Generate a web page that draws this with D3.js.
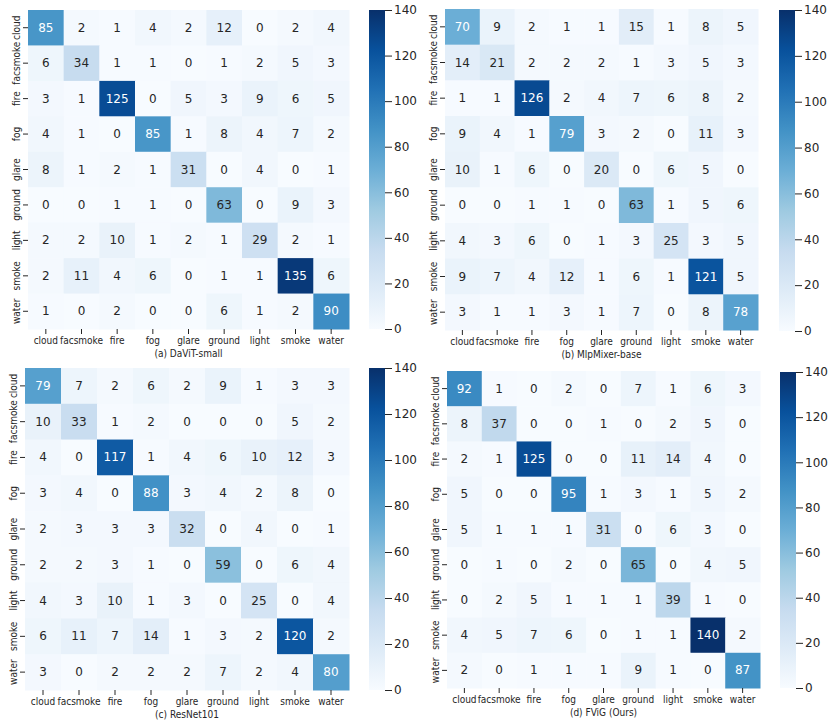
<!DOCTYPE html>
<html>
<head>
<meta charset="utf-8">
<script src="https://cdnjs.cloudflare.com/ajax/libs/d3/7.8.5/d3.min.js"></script>
<style>
  body { margin: 0; background: #fff; }
  text { font-family: "DejaVu Sans", sans-serif; fill: #262626; }
  .lbl text { font-family: "DejaVu Sans Condensed", "DejaVu Sans", sans-serif; }
</style>
</head>
<body>
<div id="canvas"></div>
<script>
// class names, same order on both axes
var categories = ["cloud", "facsmoke", "fire", "fog", "glare", "ground", "light", "smoke", "water"];

// rows = true class, cols = predicted class
var davitSmall = [
  [85, 2, 1, 4, 2, 12, 0, 2, 4],
  [6, 34, 1, 1, 0, 1, 2, 5, 3],
  [3, 1, 125, 0, 5, 3, 9, 6, 5],
  [4, 1, 0, 85, 1, 8, 4, 7, 2],
  [8, 1, 2, 1, 31, 0, 4, 0, 1],
  [0, 0, 1, 1, 0, 63, 0, 9, 3],
  [2, 2, 10, 1, 2, 1, 29, 2, 1],
  [2, 11, 4, 6, 0, 1, 1, 135, 6],
  [1, 0, 2, 0, 0, 6, 1, 2, 90]
];

var mlpMixerBase = [
  [70, 9, 2, 1, 1, 15, 1, 8, 5],
  [14, 21, 2, 2, 2, 1, 3, 5, 3],
  [1, 1, 126, 2, 4, 7, 6, 8, 2],
  [9, 4, 1, 79, 3, 2, 0, 11, 3],
  [10, 1, 6, 0, 20, 0, 6, 5, 0],
  [0, 0, 1, 1, 0, 63, 1, 5, 6],
  [4, 3, 6, 0, 1, 3, 25, 3, 5],
  [9, 7, 4, 12, 1, 6, 1, 121, 5],
  [3, 1, 1, 3, 1, 7, 0, 8, 78]
];

var resNet101 = [
  [79, 7, 2, 6, 2, 9, 1, 3, 3],
  [10, 33, 1, 2, 0, 0, 0, 5, 2],
  [4, 0, 117, 1, 4, 6, 10, 12, 3],
  [3, 4, 0, 88, 3, 4, 2, 8, 0],
  [2, 3, 3, 3, 32, 0, 4, 0, 1],
  [2, 2, 3, 1, 0, 59, 0, 6, 4],
  [4, 3, 10, 1, 3, 0, 25, 0, 4],
  [6, 11, 7, 14, 1, 3, 2, 120, 2],
  [3, 0, 2, 2, 2, 7, 2, 4, 80]
];

var fvig = [
  [92, 1, 0, 2, 0, 7, 1, 6, 3],
  [8, 37, 0, 0, 1, 0, 2, 5, 0],
  [2, 1, 125, 0, 0, 11, 14, 4, 0],
  [5, 0, 0, 95, 1, 3, 1, 5, 2],
  [5, 1, 1, 1, 31, 0, 6, 3, 0],
  [0, 1, 0, 2, 0, 65, 0, 4, 5],
  [0, 2, 5, 1, 1, 1, 39, 1, 0],
  [4, 5, 7, 6, 0, 1, 1, 140, 2],
  [2, 0, 1, 1, 1, 9, 1, 0, 87]
];

var captions = ["(a) DaViT-small", "(b) MlpMixer-base", "(c) ResNet101", "(d) FViG (Ours)"];
var colorbarTicks = [0, 20, 40, 60, 80, 100, 120, 140];
var vmax = 140;

// where each sub-figure sits (the source is a pasted composite, so they differ a bit)
var panels = [
  {m: davitSmall,   x: 28,  y: 10,  w: 321, h: 319, cbx: 369, cby: 10,  cbh: 319},
  {m: mlpMixerBase, x: 445, y: 9,   w: 313, h: 321, cbx: 779, cby: 10,  cbh: 321},
  {m: resNet101,    x: 25,  y: 368, w: 324, h: 322, cbx: 369, cby: 368, cbh: 322},
  {m: fvig,         x: 447, y: 371, w: 313, h: 317, cbx: 780, cby: 372, cbh: 316}
];

// matplotlib "Blues"
var blues = ["#f7fbff", "#deebf7", "#c6dbef", "#9ecae1", "#6baed6", "#4292c6", "#2171b5", "#08519c", "#08306b"];
var color = d3.scaleLinear()
  .domain(blues.map(function(d, i) { return i / 8 * vmax; }))
  .range(blues)
  .clamp(true);

// seaborn picks white text on dark cells
function textColor(v) {
  var c = d3.rgb(color(v));
  var lin = function(u) { u = u / 255; return u <= 0.03928 ? u / 12.92 : Math.pow((u + 0.055) / 1.055, 2.4); };
  var lum = 0.2126 * lin(c.r) + 0.7152 * lin(c.g) + 0.0722 * lin(c.b);
  return lum > 0.408 ? "#262626" : "#ffffff";
}

var svg = d3.select("#canvas").append("svg")
  .attr("width", 830)
  .attr("height", 727);

var defs = svg.append("defs");
var grad = defs.append("linearGradient")
  .attr("id", "cbgrad")
  .attr("x1", 0).attr("y1", 1).attr("x2", 0).attr("y2", 0);
blues.forEach(function(c, i) {
  grad.append("stop").attr("offset", i / 8).attr("stop-color", c);
});

panels.forEach(function(p, k) {
  var g = svg.append("g").attr("transform", "translate(" + p.x + "," + p.y + ")");

  var x = d3.scaleBand().domain(categories).range([0, p.w]);
  var y = d3.scaleBand().domain(categories).range([0, p.h]);

  var cells = [];
  p.m.forEach(function(row, i) {
    row.forEach(function(v, j) {
      cells.push({r: categories[i], c: categories[j], v: v});
    });
  });

  g.selectAll("rect.cell").data(cells).enter().append("rect")
    .attr("class", "cell")
    .attr("x", function(d) { return x(d.c); })
    .attr("y", function(d) { return y(d.r); })
    .attr("width", x.bandwidth() + 0.5)
    .attr("height", y.bandwidth() + 0.5)
    .attr("fill", function(d) { return color(d.v); });

  g.selectAll("text.annot").data(cells).enter().append("text")
    .attr("class", "annot")
    .attr("x", function(d) { return x(d.c) + x.bandwidth() / 2; })
    .attr("y", function(d) { return y(d.r) + y.bandwidth() / 2; })
    .attr("text-anchor", "middle")
    .attr("dominant-baseline", "central")
    .style("font-size", "12px")
    .style("fill", function(d) { return textColor(d.v); })
    .text(function(d) { return d.v; });

  var xAxis = g.append("g")
    .attr("class", "lbl")
    .attr("transform", "translate(0," + p.h + ")")
    .call(d3.axisBottom(x).tickSize(5).tickPadding(3));
  xAxis.select(".domain").remove();
  xAxis.selectAll("line").attr("stroke", "#262626");
  xAxis.selectAll("text").style("font-size", "10px").attr("fill", "#262626");

  var yAxis = g.append("g")
    .attr("class", "lbl")
    .call(d3.axisLeft(y).tickSize(5));
  yAxis.select(".domain").remove();
  yAxis.selectAll("line").attr("stroke", "#262626");
  yAxis.selectAll("text")
    .attr("x", null).attr("dy", null)
    .attr("transform", "translate(-8,0) rotate(-90)")
    .attr("text-anchor", "middle")
    .style("font-size", "10px")
    .attr("fill", "#262626");

  g.append("text")
    .attr("class", "caption")
    .attr("x", p.w / 2)
    .attr("y", p.h + 28)
    .attr("text-anchor", "middle")
    .style("font-family", "'DejaVu Sans Condensed', 'DejaVu Sans', sans-serif")
    .style("font-size", "10px")
    .text(captions[k]);

  // colorbar
  var cb = svg.append("g").attr("transform", "translate(" + p.cbx + "," + p.cby + ")");
  cb.append("rect")
    .attr("width", 16)
    .attr("height", p.cbh)
    .attr("fill", "url(#cbgrad)");
  var cbScale = d3.scaleLinear().domain([0, vmax]).range([p.cbh, 0]);
  var cbAxis = cb.append("g")
    .attr("transform", "translate(16,0)")
    .call(d3.axisRight(cbScale).tickValues(colorbarTicks).tickSize(7).tickPadding(2));
  cbAxis.select(".domain").remove();
  cbAxis.selectAll("line").attr("stroke", "#262626");
  cbAxis.selectAll("text").style("font-size", "12px").attr("fill", "#262626");
});
</script>
</body>
</html>
